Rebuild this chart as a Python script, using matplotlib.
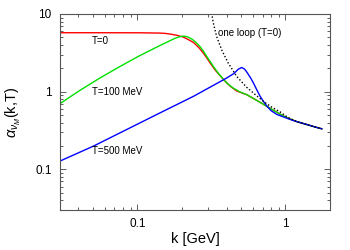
import matplotlib
matplotlib.use("Agg")
import matplotlib.pyplot as plt
from matplotlib.ticker import LogLocator, FixedLocator, FixedFormatter, NullFormatter

plt.rcParams['font.family'] = ['Liberation Sans', 'DejaVu Sans']
plt.rcParams['mathtext.fontset'] = 'custom'
plt.rcParams['mathtext.rm'] = 'Liberation Sans'
plt.rcParams['mathtext.it'] = 'Liberation Sans:italic'

# T = 0
k_red = [0.030, 0.0558, 0.104, 0.142, 0.155, 0.166, 0.185, 0.204, 0.220, 0.239, 0.260, 0.279,
         0.295, 0.309, 0.335, 0.361, 0.380, 0.401, 0.430, 0.469,
         0.547, 0.620, 0.709, 0.800, 0.919, 1.000, 1.074, 1.200, 1.393, 1.580, 1.76]
a_red = [5.74, 5.74, 5.73, 5.68, 5.62, 5.52, 5.32, 5.05, 4.70, 4.30, 3.70, 3.13,
         2.70, 2.36, 1.90, 1.62, 1.45, 1.30, 1.15, 1.02,
         0.916, 0.800, 0.690, 0.600, 0.515, 0.472, 0.445, 0.410, 0.378, 0.352, 0.333]

# T = 100 MeV
k_green = [0.030, 0.0409, 0.0558, 0.0762, 0.104, 0.142, 0.180, 0.194, 0.205, 0.215, 0.225,
           0.239, 0.252, 0.265, 0.280, 0.294, 0.310, 0.326, 0.350, 0.380, 0.410, 0.445, 0.490,
           0.547, 0.620, 0.709, 0.800, 0.919, 1.000, 1.074, 1.200, 1.393, 1.580, 1.76]
a_green = [0.702, 1.04, 1.50, 2.11, 2.92, 3.93, 4.88, 5.11, 5.20, 5.12, 4.95,
           4.60, 4.20, 3.80, 3.30, 2.84, 2.45, 2.11, 1.75, 1.45, 1.25, 1.11, 1.00,
           0.916, 0.800, 0.690, 0.600, 0.515, 0.472, 0.445, 0.410, 0.378, 0.352, 0.333]

# T = 500 MeV
k_blue = [0.030, 0.0504, 0.0847, 0.142, 0.239, 0.401, 0.450, 0.479, 0.507, 0.530, 0.547,
          0.580, 0.607, 0.640, 0.673, 0.710, 0.748, 0.800, 0.874, 0.964, 1.074, 1.200,
          1.393, 1.580, 1.76]
a_blue = [0.128, 0.199, 0.326, 0.533, 0.871, 1.50, 1.72, 1.94, 2.05, 1.95, 1.80,
          1.52, 1.30, 1.06, 0.880, 0.750, 0.655, 0.570, 0.510, 0.475, 0.440, 0.410,
          0.378, 0.352, 0.333]

# one loop (T = 0)
k_loop = [0.312, 0.318, 0.326, 0.343, 0.371, 0.411, 0.469, 0.547, 0.620, 0.709, 0.800,
          0.919, 1.000, 1.074, 1.200, 1.393, 1.580, 1.76]
a_loop = [14.0, 10.0, 7.60, 5.12, 3.45, 2.33, 1.57, 1.14, 0.930, 0.752, 0.640,
          0.550, 0.490, 0.452, 0.412, 0.378, 0.352, 0.333]

xticks = [0.1, 1]
xticklabels = ["0.1", "1"]
yticks = [0.1, 1, 10]
yticklabels = ["0.1", "1", "10"]

fig = plt.figure(figsize=(3.5, 2.5), dpi=100)
ax = fig.add_axes([60/350, 1-210/250, 270/350, 196/250])

ax.plot(k_red, a_red, color='#ff0000', lw=1.0)
ax.plot(k_green, a_green, color='#00e000', lw=1.0)
ax.plot(k_blue, a_blue, color='#0000ff', lw=1.0)
ax.plot(k_loop, a_loop, color='black', lw=1.0, ls=(0, (1, 1.5)))

ax.set_xscale('log')
ax.set_yscale('log')
ax.set_xlim(0.03, 2)
ax.set_ylim(0.03, 10)

ax.xaxis.set_major_locator(FixedLocator(xticks))
ax.xaxis.set_major_formatter(FixedFormatter(xticklabels))
ax.yaxis.set_major_locator(FixedLocator(yticks))
ax.yaxis.set_major_formatter(FixedFormatter(yticklabels))
ax.xaxis.set_minor_locator(LogLocator(base=10, subs=range(2, 10)))
ax.yaxis.set_minor_locator(LogLocator(base=10, subs=range(2, 10)))
ax.xaxis.set_minor_formatter(NullFormatter())
ax.yaxis.set_minor_formatter(NullFormatter())

ax.tick_params(which='both', direction='in', top=True, right=True, colors='#444444',
               labelcolor='black', labelsize=8.5)
ax.tick_params(which='major', length=4, width=0.6)
ax.tick_params(which='minor', length=2, width=0.6)
ax.tick_params(axis='x', pad=6)
ax.tick_params(axis='y', pad=6)
for s in ax.spines.values():
    s.set_color('#555555')
    s.set_linewidth(0.8)

ax.set_xlabel('k [GeV]', fontsize=10.5, labelpad=1)
ax.set_ylabel(r'$\alpha_{\nu_M}$(k,T)', fontsize=10.5, labelpad=9)

ax.text(0.0493, 4.51, 'T=0', fontsize=7, ha='left', va='center')
ax.text(0.0493, 1.0, 'T=100 MeV', fontsize=7, ha='left', va='center')
ax.text(0.0493, 0.172, 'T=500 MeV', fontsize=7, ha='left', va='center')
ax.text(0.352, 5.66, 'one loop (T=0)', fontsize=7, ha='left', va='center')

fig.savefig('out.png', dpi=100)
